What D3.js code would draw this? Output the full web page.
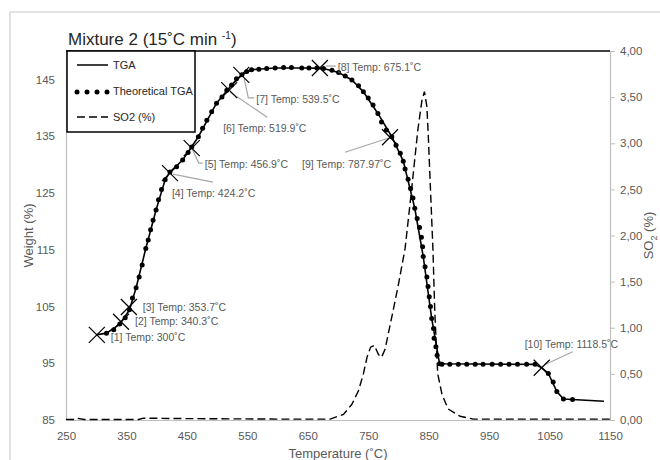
<!DOCTYPE html>
<html>
<head>
<meta charset="utf-8">
<script src="https://cdn.jsdelivr.net/npm/d3@7"></script>
<style>
  body { margin: 0; background: #fff; }
  text { font-family: "Liberation Sans", Arial, sans-serif; }
</style>
</head>
<body>
<div class="chart"></div>
<script>
// TGA / SO2 chart for Mixture 2

// measured TGA curve (temperature degC, weight %)
var tgaTemp = [300, 317, 339, 355, 366, 382, 399, 414, 422, 443, 469, 499, 524, 541, 557, 596, 652, 676, 701, 723, 742, 766, 789, 808, 827, 841, 855, 868, 1026, 1037, 1048, 1062, 1073, 1140];
var tgaWeight = [100.0, 100.3, 101.9, 104.4, 108.3, 115.2, 122.0, 127.3, 128.7, 130.8, 134.9, 140.8, 144.0, 145.8, 146.7, 147.0, 147.0, 146.9, 146.2, 144.9, 142.8, 139.0, 134.9, 130.6, 122.3, 113.8, 102.9, 94.9, 94.8, 94.2, 93.2, 90.0, 88.7, 88.3];

// theoretical TGA points (dots)
var theoTemp = [317, 329, 339, 348, 355, 360, 366, 371, 376, 382, 386, 390, 394, 399, 403, 408, 414, 422, 433, 443, 452, 458, 469, 476, 483, 491, 499, 508, 516, 524, 532, 541, 549, 557, 569, 582, 596, 610, 623, 640, 652, 665, 676, 690, 701, 712, 723, 734, 742, 750, 758, 766, 772, 780, 789, 796, 803, 808, 811, 816, 820, 824, 827, 831, 835, 838, 840, 841, 844, 847, 849, 851, 853, 855, 858, 859, 862, 864, 868, 872, 885, 899, 913, 927, 940, 955, 969, 983, 997, 1012, 1026, 1048, 1056, 1062, 1073, 1088];
var theoWeight = [100.3, 100.9, 101.9, 103.0, 104.4, 106.5, 108.3, 110.2, 112.3, 115.2, 116.7, 118.5, 120.2, 122.0, 123.8, 125.6, 127.3, 128.7, 129.6, 130.8, 132.1, 133.1, 134.9, 136.4, 137.8, 139.3, 140.8, 141.9, 143.1, 144.0, 145.1, 145.8, 146.4, 146.7, 146.8, 146.9, 147.0, 147.1, 147.1, 147.0, 147.0, 147.0, 146.9, 146.6, 146.2, 145.6, 144.9, 143.9, 142.8, 141.7, 140.5, 139.0, 137.5, 136.1, 134.9, 133.4, 132.0, 130.6, 129.2, 127.4, 125.8, 124.1, 122.3, 120.5, 118.9, 117.2, 115.5, 113.8, 112.0, 110.2, 108.5, 106.7, 105.0, 102.9, 101.1, 99.4, 97.9, 96.4, 94.9, 94.8, 94.8, 94.8, 94.8, 94.8, 94.8, 94.8, 94.8, 94.8, 94.8, 94.8, 94.8, 93.2, 91.7, 90.0, 88.7, 88.6];

// SO2 signal (right axis, %)
var so2Temp = [250, 262, 268, 280, 370, 378, 450, 600, 687, 709, 723, 734, 742, 748, 754, 760, 767, 772, 778, 783, 791, 800, 811, 821, 832, 839, 843, 847, 849, 853, 857, 860, 862, 865, 872, 882, 902, 924, 1000, 1150];
var so2Value = [0.005, 0.005, 0.02, 0.005, 0.005, 0.02, 0.015, 0.01, 0.01, 0.06, 0.17, 0.32, 0.50, 0.68, 0.79, 0.81, 0.71, 0.68, 0.77, 0.93, 1.18, 1.47, 1.86, 2.45, 3.14, 3.47, 3.56, 3.40, 3.14, 2.50, 1.86, 1.20, 0.90, 0.50, 0.28, 0.12, 0.04, 0.01, 0.01, 0.01];

// marked points
var markLabels = ["[1] Temp: 300˚C", "[2] Temp: 340.3˚C", "[3] Temp: 353.7˚C", "[4] Temp: 424.2˚C", "[5] Temp: 456.9˚C", "[6] Temp: 519.9˚C", "[7] Temp: 539.5˚C", "[8] Temp: 675.1˚C", "[9] Temp: 787.97˚C", "[10] Temp: 1118.5˚C"];
var markTemp = [301, 341, 354, 422, 458, 520, 540, 670, 786, 1037];
var markWeight = [100.0, 102.3, 104.9, 128.5, 132.9, 143.1, 145.8, 147.0, 134.8, 94.2];

// axis ticks
var xTicks = [250, 350, 450, 550, 650, 750, 850, 950, 1050, 1150];
var yLeftTicks = [85, 95, 105, 115, 125, 135, 145];
var yRightTicks = [0, 0.5, 1, 1.5, 2, 2.5, 3, 3.5, 4];

// label placement relative to each marker (text start, leader line points)
var labelOffsets = [[14, 2], [14, 0], [14, 0], [2, 20], [13, 16], [-6, 38], [15, 24], [18, -1], [-88, 27], [-17, -23]];
var leaderOffsets = [
  null, null, null,
  [[3, 1], [43, 9]],
  [[1, 2], [7, 15], [11, 15]],
  [[1, 2], [38, 27]],
  [[3, 4], [7, 23], [13, 23]],
  [[6, -2], [16, -2]],
  [[-2, 1], [-45, 15]],
  [[3, -3], [31, -16]]
];

var svgWidth = 660;
var svgHeight = 460;

var margin = {
  top: 51,
  right: 50,
  bottom: 40,
  left: 66
};

var width = svgWidth - margin.left - margin.right;
var height = svgHeight - margin.top - margin.bottom;

var svg = d3
  .select(".chart")
  .append("svg")
  .attr("width", svgWidth)
  .attr("height", svgHeight);

// outer chart frame
svg.append("path")
  .attr("d", "M10,460 L10,12 L660,12")
  .attr("fill", "none")
  .attr("stroke", "#d9d9d9")
  .attr("stroke-width", 1.5);

var chartGroup = svg.append("g")
  .attr("transform", `translate(${margin.left}, ${margin.top})`);

var xScale = d3.scaleLinear().domain([250, 1150]).range([0, width]);
var yLeft = d3.scaleLinear().domain([85, 150]).range([height, 0]);
var yRight = d3.scaleLinear().domain([0, 4]).range([height, 0]);

// axes
var bottomAxis = d3.axisBottom(xScale).tickValues(xTicks).tickSize(0).tickPadding(12)
  .tickFormat(d3.format("d"));
var leftAxis = d3.axisLeft(yLeft).tickValues(yLeftTicks).tickSize(0).tickPadding(11)
  .tickFormat(d3.format("d"));
var rightAxis = d3.axisRight(yRight).tickValues(yRightTicks).tickSize(5).tickPadding(5)
  .tickFormat(d => d3.format(".2f")(d).replace(".", ","));

var xAxis = chartGroup.append("g")
  .attr("transform", `translate(0, ${height})`)
  .call(bottomAxis);

var yAxisL = chartGroup.append("g")
  .call(leftAxis);

var yAxisR = chartGroup.append("g")
  .attr("transform", `translate(${width}, 0)`)
  .call(rightAxis);

[xAxis, yAxisL, yAxisR].forEach(function(ax) {
  ax.select(".domain").attr("stroke", "#bfbfbf").attr("stroke-width", 1.2);
  ax.selectAll(".tick line").attr("stroke", "#bfbfbf");
  ax.selectAll(".tick text")
    .attr("fill", "#595959")
    .style("font-size", "11.5px")
    .style("font-family", "'Liberation Sans', Arial, sans-serif");
});

// top border of plot
chartGroup.append("line")
  .attr("x1", 0).attr("x2", width)
  .attr("y1", 0).attr("y2", 0)
  .attr("stroke", "#000")
  .attr("stroke-width", 1.5);

// SO2 dashed
var so2Data = so2Temp.map((t, i) => ({ t: t, v: so2Value[i] }));
chartGroup.append("path")
  .datum(so2Data)
  .attr("d", d3.line().x(d => xScale(d.t)).y(d => yRight(d.v)))
  .attr("fill", "none")
  .attr("stroke", "#000")
  .attr("stroke-width", 1.4)
  .attr("stroke-dasharray", "8,4");

// TGA line
var tgaData = tgaTemp.map((t, i) => ({ t: t, w: tgaWeight[i] }));
chartGroup.append("path")
  .datum(tgaData)
  .attr("d", d3.line().x(d => xScale(d.t)).y(d => yLeft(d.w)))
  .attr("fill", "none")
  .attr("stroke", "#000")
  .attr("stroke-width", 1.6);

// theoretical TGA dots
var theoData = theoTemp.map((t, i) => ({ t: t, w: theoWeight[i] }));
chartGroup.selectAll("circle.theo")
  .data(theoData)
  .enter()
  .append("circle")
  .attr("class", "theo")
  .attr("cx", d => xScale(d.t))
  .attr("cy", d => yLeft(d.w))
  .attr("r", 2.5)
  .attr("fill", "#000");

// markers, leader lines and labels
var markData = markTemp.map((t, i) => ({
  t: t, w: markWeight[i], label: markLabels[i], off: labelOffsets[i], lead: leaderOffsets[i]
}));

markData.forEach(function(d) {
  var px = xScale(d.t);
  var py = yLeft(d.w);
  if (d.lead) {
    chartGroup.append("path")
      .attr("d", d3.line()(d.lead.map(p => [px + p[0], py + p[1]])))
      .attr("fill", "none")
      .attr("stroke", "#a6a6a6")
      .attr("stroke-width", 1.2);
  }
  chartGroup.append("path")
    .attr("transform", `translate(${px}, ${py})`)
    .attr("d", "M-8,-8L8,8M-8,8L8,-8")
    .attr("stroke", "#000")
    .attr("stroke-width", 1.2);
  chartGroup.append("text")
    .attr("x", px + d.off[0])
    .attr("y", py + d.off[1])
    .attr("dy", "0.35em")
    .attr("fill", "#595959")
    .style("font-size", "10.5px")
    .text(d.label);
});

// legend
var legend = chartGroup.append("g").attr("transform", "translate(1, 0)");
legend.append("rect")
  .attr("x", 0).attr("y", 0)
  .attr("width", 128).attr("height", 81)
  .attr("fill", "#fff")
  .attr("stroke", "#000")
  .attr("stroke-width", 1.5);

legend.append("line")
  .attr("x1", 10).attr("x2", 41).attr("y1", 14).attr("y2", 14)
  .attr("stroke", "#000").attr("stroke-width", 1.5);
legend.selectAll("circle")
  .data([10, 20, 30, 40])
  .enter()
  .append("circle")
  .attr("cx", d => d).attr("cy", 41).attr("r", 2.5).attr("fill", "#000");
legend.append("line")
  .attr("x1", 10).attr("x2", 41).attr("y1", 66).attr("y2", 66)
  .attr("stroke", "#000").attr("stroke-width", 1.5)
  .attr("stroke-dasharray", "8,4");

var legendNames = ["TGA", "Theoretical TGA", "SO2 (%)"];
legend.selectAll("text")
  .data(legendNames)
  .enter()
  .append("text")
  .attr("x", 46)
  .attr("y", (d, i) => 14 + i * 26)
  .attr("dy", "0.35em")
  .attr("fill", "#262626")
  .style("font-size", "11px")
  .text(d => d);

// title
var title = svg.append("text")
  .attr("x", 68)
  .attr("y", 45)
  .attr("fill", "#262626")
  .style("font-size", "17px");
title.append("tspan").text("Mixture 2 (15˚C min ");
title.append("tspan").attr("dy", -6).style("font-size", "10px").text("-1");
title.append("tspan").attr("dy", 6).text(")");

// axis titles
svg.append("text")
  .attr("x", margin.left + width / 2)
  .attr("y", 453)
  .attr("dy", "0.35em")
  .attr("text-anchor", "middle")
  .attr("fill", "#595959")
  .style("font-size", "13px")
  .text("Temperature (˚C)");

svg.append("text")
  .attr("transform", `translate(28, ${margin.top + height / 2}) rotate(-90)`)
  .attr("text-anchor", "middle")
  .attr("dy", "0.35em")
  .attr("fill", "#595959")
  .style("font-size", "13px")
  .text("Weight (%)");

var so2Label = svg.append("text")
  .attr("transform", `translate(648, ${margin.top + height / 2}) rotate(-90)`)
  .attr("text-anchor", "middle")
  .attr("dy", "0.35em")
  .attr("fill", "#595959")
  .style("font-size", "13px");
so2Label.append("tspan").text("SO");
so2Label.append("tspan").attr("dy", 4).style("font-size", "9px").text("2");
so2Label.append("tspan").attr("dy", -4).text(" (%)");
</script>
</body>
</html>
